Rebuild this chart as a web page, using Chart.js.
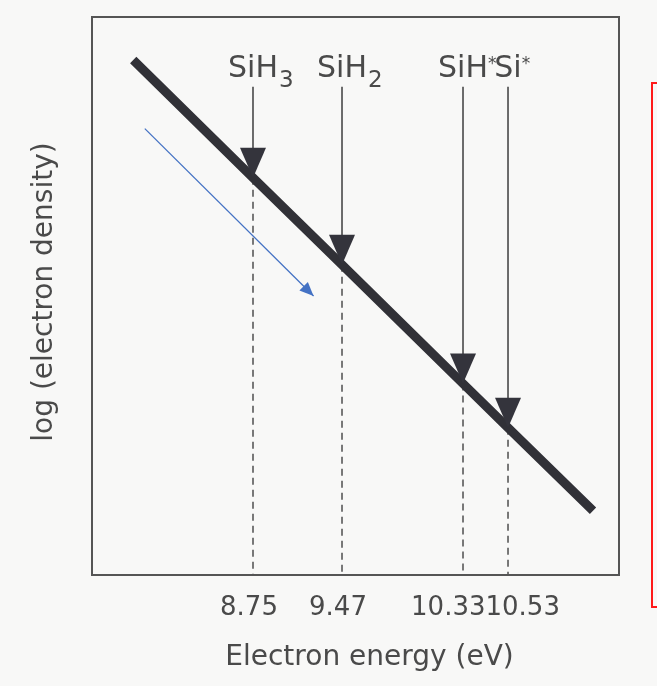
<!DOCTYPE html>
<html>
<head>
<meta charset="utf-8">
<script src="https://cdn.jsdelivr.net/npm/chart.js@4.4.0/dist/chart.umd.min.js"></script>
<style>
  html, body { margin: 0; background: #f8f8f7; }
  #wrap { width: 657px; height: 686px; position: relative; }
</style>
</head>
<body>
<div id="wrap"><canvas id="chart"></canvas></div>
<script>
// species thresholds (eV)
const speciesBase = ['SiH', 'SiH', 'SiH', 'Si'];
const speciesMark = ['3', '2', '*', '*'];
const energies = [8.75, 9.47, 10.33, 10.53];
const energyLabels = ['8.75', '9.47', '10.33', '10.53'];

// straight line, log(electron density) in arbitrary units
const lineEnergy = [7.82, 8.75, 9.47, 10.33, 10.53, 10.89];
const lineLogDensity = [0.923, 0.712, 0.556, 0.343, 0.264, 0.115];

const arrowTop = 0.875;                         // where the species arrows start
const blueArrow = [[7.91, 0.80], [9.24, 0.50]]; // annotation arrow

// the energy axis of the sketch is not to scale: stops map eV -> fraction of width
const axisStops = [[7.5, 0], [8.75, 0.3055], [9.47, 0.4744], [10.33, 0.704], [10.53, 0.7894], [11.0, 1]];

const toDecimal = v => {
  for (let i = 1; i < axisStops.length; i++) {
    const [e0, f0] = axisStops[i - 1], [e1, f1] = axisStops[i];
    if (v <= e1 || i === axisStops.length - 1) return f0 + (v - e0) / (e1 - e0) * (f1 - f0);
  }
};
const fromDecimal = d => {
  for (let i = 1; i < axisStops.length; i++) {
    const [e0, f0] = axisStops[i - 1], [e1, f1] = axisStops[i];
    if (d <= f1 || i === axisStops.length - 1) return e0 + (d - f0) / (f1 - f0) * (e1 - e0);
  }
};

class SchematicScale extends Chart.LinearScale {
  getPixelForValue(value) {
    return value === null ? NaN : this.getPixelForDecimal(toDecimal(value));
  }
  getValueForPixel(pixel) {
    return fromDecimal(this.getDecimalForPixel(pixel));
  }
}
SchematicScale.id = 'schematic';
Chart.register(SchematicScale);

const densityAt = e => lineLogDensity[lineEnergy.indexOf(e)];

const datasets = [{
  data: lineEnergy.map((e, i) => ({ x: e, y: lineLogDensity[i] })),
  borderColor: '#313137',
  borderWidth: 9,
  borderCapStyle: 'butt',
  pointRadius: 0
}, {
  data: blueArrow.map(p => ({ x: p[0], y: p[1] })),
  borderColor: '#4472c4',
  borderWidth: 1.3,
  pointRadius: 0
}];
energies.forEach(e => {
  datasets.push({
    data: [{ x: e, y: arrowTop }, { x: e, y: densityAt(e) }],
    borderColor: '#4a4a4a',
    borderWidth: 1.6,
    pointRadius: 0
  });
  datasets.push({
    data: [{ x: e, y: densityAt(e) }, { x: e, y: 0 }],
    borderColor: '#6a6a6a',
    borderWidth: 1.8,
    borderDash: [7, 5],
    pointRadius: 0
  });
});

const textColor = '#4a4a4a';
const font = size => size + 'px "DejaVu Sans"';

const decor = {
  id: 'decor',
  beforeDraw(chart) {
    const { ctx, width, height } = chart;
    ctx.save();
    ctx.fillStyle = '#f8f8f7';
    ctx.fillRect(0, 0, width, height);
    ctx.restore();
  },
  afterDatasetsDraw(chart) {
    const { ctx, chartArea: a, scales: { x, y } } = chart;
    ctx.save();

    // arrow heads on the line
    ctx.fillStyle = '#34343c';
    energies.forEach(e => {
      const px = x.getPixelForValue(e), py = y.getPixelForValue(densityAt(e));
      ctx.beginPath();
      ctx.moveTo(px, py);
      ctx.lineTo(px - 13, py - 30);
      ctx.lineTo(px + 13, py - 30);
      ctx.closePath();
      ctx.fill();
    });

    // blue arrow head
    const bx0 = x.getPixelForValue(blueArrow[0][0]), by0 = y.getPixelForValue(blueArrow[0][1]);
    const bx1 = x.getPixelForValue(blueArrow[1][0]), by1 = y.getPixelForValue(blueArrow[1][1]);
    const ang = Math.atan2(by1 - by0, bx1 - bx0);
    ctx.fillStyle = '#4472c4';
    ctx.beginPath();
    ctx.moveTo(bx1, by1);
    ctx.lineTo(bx1 - 14 * Math.cos(ang) + 6 * Math.sin(ang), by1 - 14 * Math.sin(ang) - 6 * Math.cos(ang));
    ctx.lineTo(bx1 - 14 * Math.cos(ang) - 6 * Math.sin(ang), by1 - 14 * Math.sin(ang) + 6 * Math.cos(ang));
    ctx.closePath();
    ctx.fill();

    // frame
    ctx.strokeStyle = '#555';
    ctx.lineWidth = 2;
    ctx.strokeRect(a.left, a.top, a.right - a.left, a.bottom - a.top);

    // red bracket at the right edge
    ctx.strokeStyle = '#ff1a1a';
    ctx.lineWidth = 2;
    ctx.strokeRect(a.right + 33, a.top + 66, 40, 524);

    // species labels
    ctx.fillStyle = textColor;
    ctx.textBaseline = 'alphabetic';
    energies.forEach((e, i) => {
      const px = x.getPixelForValue(e);
      ctx.font = font(30);
      const w = ctx.measureText(speciesBase[i]).width;
      ctx.textAlign = 'center';
      ctx.fillText(speciesBase[i], px, a.top + 60);
      ctx.textAlign = 'left';
      if (speciesMark[i] === '*') {
        ctx.font = font(17);
        ctx.fillText(speciesMark[i], px + w / 2, a.top + 52);
      } else {
        ctx.font = font(23);
        ctx.fillText(speciesMark[i], px + w / 2 + 1, a.top + 70);
      }
    });

    // energy tick labels, pushed apart where they would overlap
    ctx.font = font(26);
    const xs = energies.map(e => x.getPixelForValue(e));
    const ws = energyLabels.map(t => ctx.measureText(t).width);
    const align = energyLabels.map(() => ['center', null]);
    for (let i = 0; i < xs.length - 1; i++) {
      if (ws[i] / 2 + ws[i + 1] / 2 > xs[i + 1] - xs[i]) {
        const mid = (xs[i] + xs[i + 1]) / 2;
        align[i] = ['right', mid];
        align[i + 1] = ['left', mid];
      }
    }
    energyLabels.forEach((t, i) => {
      ctx.textAlign = align[i][0];
      ctx.fillText(t, align[i][1] === null ? xs[i] - 4 : align[i][1], a.bottom + 40);
    });

    // axis titles
    ctx.font = font(28);
    ctx.textAlign = 'center';
    ctx.fillText('Electron energy (eV)', (a.left + a.right) / 2 + 14, a.bottom + 90);
    ctx.translate(a.left - 47, (a.top + a.bottom) / 2 - 4);
    ctx.rotate(-Math.PI / 2);
    ctx.textBaseline = 'middle';
    ctx.fillText('log (electron density)', 0, 0);

    ctx.restore();
  }
};

new Chart(document.getElementById('chart'), {
  type: 'line',
  data: { datasets },
  options: {
    responsive: true,
    maintainAspectRatio: false,
    animation: false,
    layout: { padding: { left: 92, top: 17, right: 38, bottom: 111 } },
    plugins: { legend: { display: false }, tooltip: { enabled: false } },
    scales: {
      x: { type: 'schematic', min: 7.5, max: 11.0, display: false },
      y: { type: 'linear', min: 0, max: 1, display: false }
    }
  },
  plugins: [decor]
});
</script>
</body>
</html>
